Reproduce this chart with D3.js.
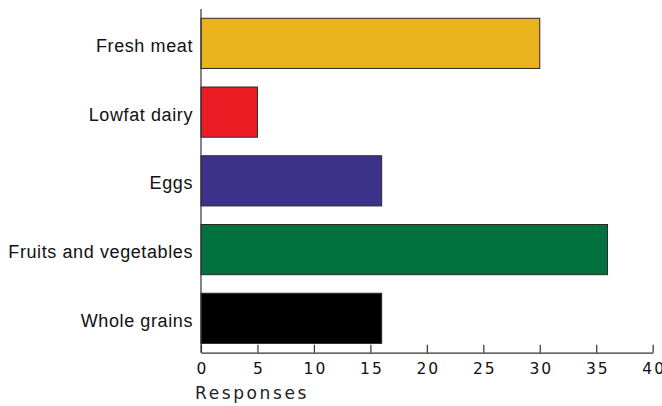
<!DOCTYPE html>
<html>
<head>
<meta charset="utf-8">
<script src="https://cdn.jsdelivr.net/npm/d3@7/dist/d3.min.js"></script>
<style>
  html, body { margin: 0; padding: 0; background: #fff; }
  svg { display: block; }
</style>
</head>
<body>
<svg id="chart" width="662" height="406"></svg>
<script>
// Survey: which foods respondents buy most
const categories = ["Fresh meat", "Lowfat dairy", "Eggs", "Fruits and vegetables", "Whole grains"];
const responses = [30, 5, 16, 36, 16];
const barColors = ["#EAB31E", "#EE1C25", "#3D3289", "#00703C", "#000000"];
const xTicks = [0, 5, 10, 15, 20, 25, 30, 35, 40];
const xTitle = "Responses";

const svg = d3.select("#chart");
const plot = { left: 201, right: 652.7, top: 9, bottom: 352.7 };

const x = d3.scaleLinear().domain([0, 40]).range([plot.left, plot.right]);
const y = d3.scaleBand().domain(categories).range([plot.top, plot.bottom])
  .paddingInner(0.27).paddingOuter(0.135);

const rows = categories.map((c, i) => ({ c, v: responses[i], color: barColors[i] }));

// Bars
svg.append("g").selectAll("rect").data(rows).join("rect")
  .attr("x", x(0))
  .attr("y", d => y(d.c))
  .attr("width", d => x(d.v) - x(0))
  .attr("height", y.bandwidth())
  .attr("fill", d => d.color)
  .attr("stroke", "#2a2a2a")
  .attr("stroke-width", 1);

// Category labels
svg.append("g").selectAll("text").data(rows).join("text")
  .attr("x", plot.left - 8)
  .attr("y", d => y(d.c) + y.bandwidth() / 2 + 8.5)
  .attr("text-anchor", "end")
  .attr("font-family", "'Liberation Sans', Arial, Helvetica, sans-serif")
  .attr("font-size", 18)
  .attr("letter-spacing", "0.6px")
  .attr("fill", "#111")
  .text(d => d.c);

// Vertical axis line
svg.append("line")
  .attr("x1", plot.left).attr("x2", plot.left)
  .attr("y1", plot.top).attr("y2", plot.bottom)
  .attr("stroke", "#333").attr("stroke-width", 1.2);

// Horizontal axis with inward ticks
const xAxis = d3.axisBottom(x).tickValues(xTicks).tickSize(-8).tickSizeOuter(0).tickPadding(10.3);
const gx = svg.append("g").attr("transform", `translate(0,${plot.bottom})`).call(xAxis);
gx.select(".domain").attr("stroke", "#333").attr("stroke-width", 1.2);
gx.selectAll(".tick line").attr("stroke", "#333").attr("stroke-width", 1.2);
gx.selectAll(".tick text")
  .attr("font-family", "'DejaVu Sans', sans-serif")
  .attr("font-size", 15.5)
  .attr("letter-spacing", "2px")
  .attr("dx", "1px")
  .attr("fill", "#111");

// Axis title
svg.append("text")
  .attr("x", 195)
  .attr("y", 399)
  .attr("font-family", "'DejaVu Sans', sans-serif")
  .attr("font-size", 17)
  .attr("letter-spacing", "2.6px")
  .attr("fill", "#222")
  .text(xTitle);
</script>
</body>
</html>
